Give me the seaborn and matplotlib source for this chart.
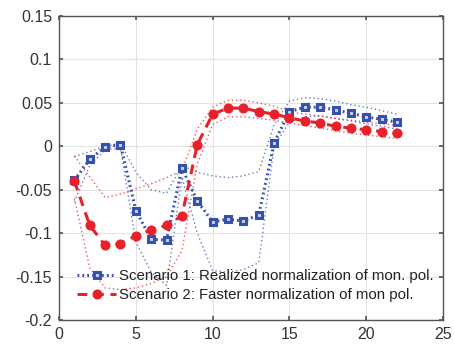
import numpy as np
import pandas as pd
import matplotlib
matplotlib.use("Agg")
import matplotlib.pyplot as plt
import seaborn as sns

periods = list(range(1, 23))

s1_mean = [-0.039, -0.015, -0.001, 0.002, -0.074, -0.107, -0.108, -0.025, -0.063, -0.087, -0.084,
           -0.086, -0.079, 0.004, 0.040, 0.045, 0.045, 0.042, 0.038, 0.034, 0.031, 0.028]
s1_upper = [-0.012, -0.006, 0.000, 0.004, -0.030, -0.050, -0.054, -0.022, -0.030, -0.034, -0.036,
            -0.034, -0.029, 0.025, 0.052, 0.056, 0.055, 0.052, 0.048, 0.045, 0.041, 0.037]
s1_lower = [-0.064, -0.022, -0.004, -0.002, -0.110, -0.145, -0.160, -0.035, -0.100, -0.143, -0.145,
            -0.142, -0.134, 0.000, 0.028, 0.034, 0.035, 0.032, 0.029, 0.026, 0.023, 0.020]

s2_mean = [-0.040, -0.091, -0.114, -0.112, -0.103, -0.096, -0.091, -0.080, 0.002, 0.037, 0.044,
           0.044, 0.040, 0.037, 0.033, 0.029, 0.027, 0.023, 0.021, 0.019, 0.017, 0.015]
s2_upper = [-0.011, -0.035, -0.059, -0.055, -0.049, -0.043, -0.036, -0.028, 0.020, 0.045, 0.053,
            0.053, 0.050, 0.046, 0.040, 0.037, 0.035, 0.032, 0.030, 0.028, 0.026, 0.024]
s2_lower = [-0.060, -0.140, -0.163, -0.165, -0.163, -0.158, -0.150, -0.120, -0.020, 0.025, 0.034,
            0.034, 0.032, 0.030, 0.027, 0.024, 0.021, 0.018, 0.015, 0.013, 0.011, 0.009]

labels = ["Scenario 1: Realized normalization of mon. pol.",
          "Scenario 2: Faster normalization of mon pol."]

blue = "#3550ad"
red = "#e8202a"

sns.set_theme(style="whitegrid")
plt.rcParams['font.family'] = ['Liberation Sans', 'DejaVu Sans']

fig = plt.figure(figsize=(4.54, 3.49), dpi=100)
ax = fig.add_axes([0.130, 0.083, 0.846, 0.871])

df = pd.DataFrame({"x": periods, "s1": s1_mean, "s1u": s1_upper, "s1l": s1_lower,
                   "s2": s2_mean, "s2u": s2_upper, "s2l": s2_lower})

for col, c in [("s1u", blue), ("s1l", blue)]:
    sns.lineplot(data=df, x="x", y=col, ax=ax, color=c, lw=1.0, ls=(0, (1, 2)), alpha=0.75)
for col, c in [("s2u", red), ("s2l", red)]:
    sns.lineplot(data=df, x="x", y=col, ax=ax, color=c, lw=1.0, ls=(0, (1, 2)), alpha=0.75)

sns.lineplot(data=df, x="x", y="s1", ax=ax, color=blue, lw=2.2, ls=(0, (0.6, 1.0)),
             marker="s", ms=5, mfc="#c9d2ee", mec=blue, mew=2.2, label=labels[0])
sns.lineplot(data=df, x="x", y="s2", ax=ax, color=red, lw=2.2, ls=(0, (3.2, 2.2)),
             marker="o", ms=6.5, mfc=red, mec=red, label=labels[1])

ax.set_xlim(0, 25)
ax.set_ylim(-0.2, 0.15)
ax.set_xticks([0, 5, 10, 15, 20, 25])
ax.set_yticks([-0.2, -0.15, -0.1, -0.05, 0, 0.05, 0.1, 0.15])
ax.set_yticklabels(["-0.2", "-0.15", "-0.1", "-0.05", "0", "0.05", "0.1", "0.15"])
ax.set_xlabel("")
ax.set_ylabel("")
ax.grid(True, color="#e3e3e3", lw=0.8)
for s in ax.spines.values():
    s.set_color("#555555")
    s.set_linewidth(1.0)
    s.set_visible(True)
ax.tick_params(axis="both", which="both", direction="in", length=3, color="#555555",
               labelsize=11.5, labelcolor="#333333", top=True, right=True,
               left=True, bottom=True, pad=5)
ax.set_facecolor("white")

leg = ax.legend(loc="lower left", bbox_to_anchor=(0.02, 0.025), frameon=False,
                fontsize=10.8, handlelength=2.6, handletextpad=0.2, labelspacing=0.3,
                borderaxespad=0.3)
for t in leg.get_texts():
    t.set_color("#222222")

fig.savefig("out.png", dpi=100)
